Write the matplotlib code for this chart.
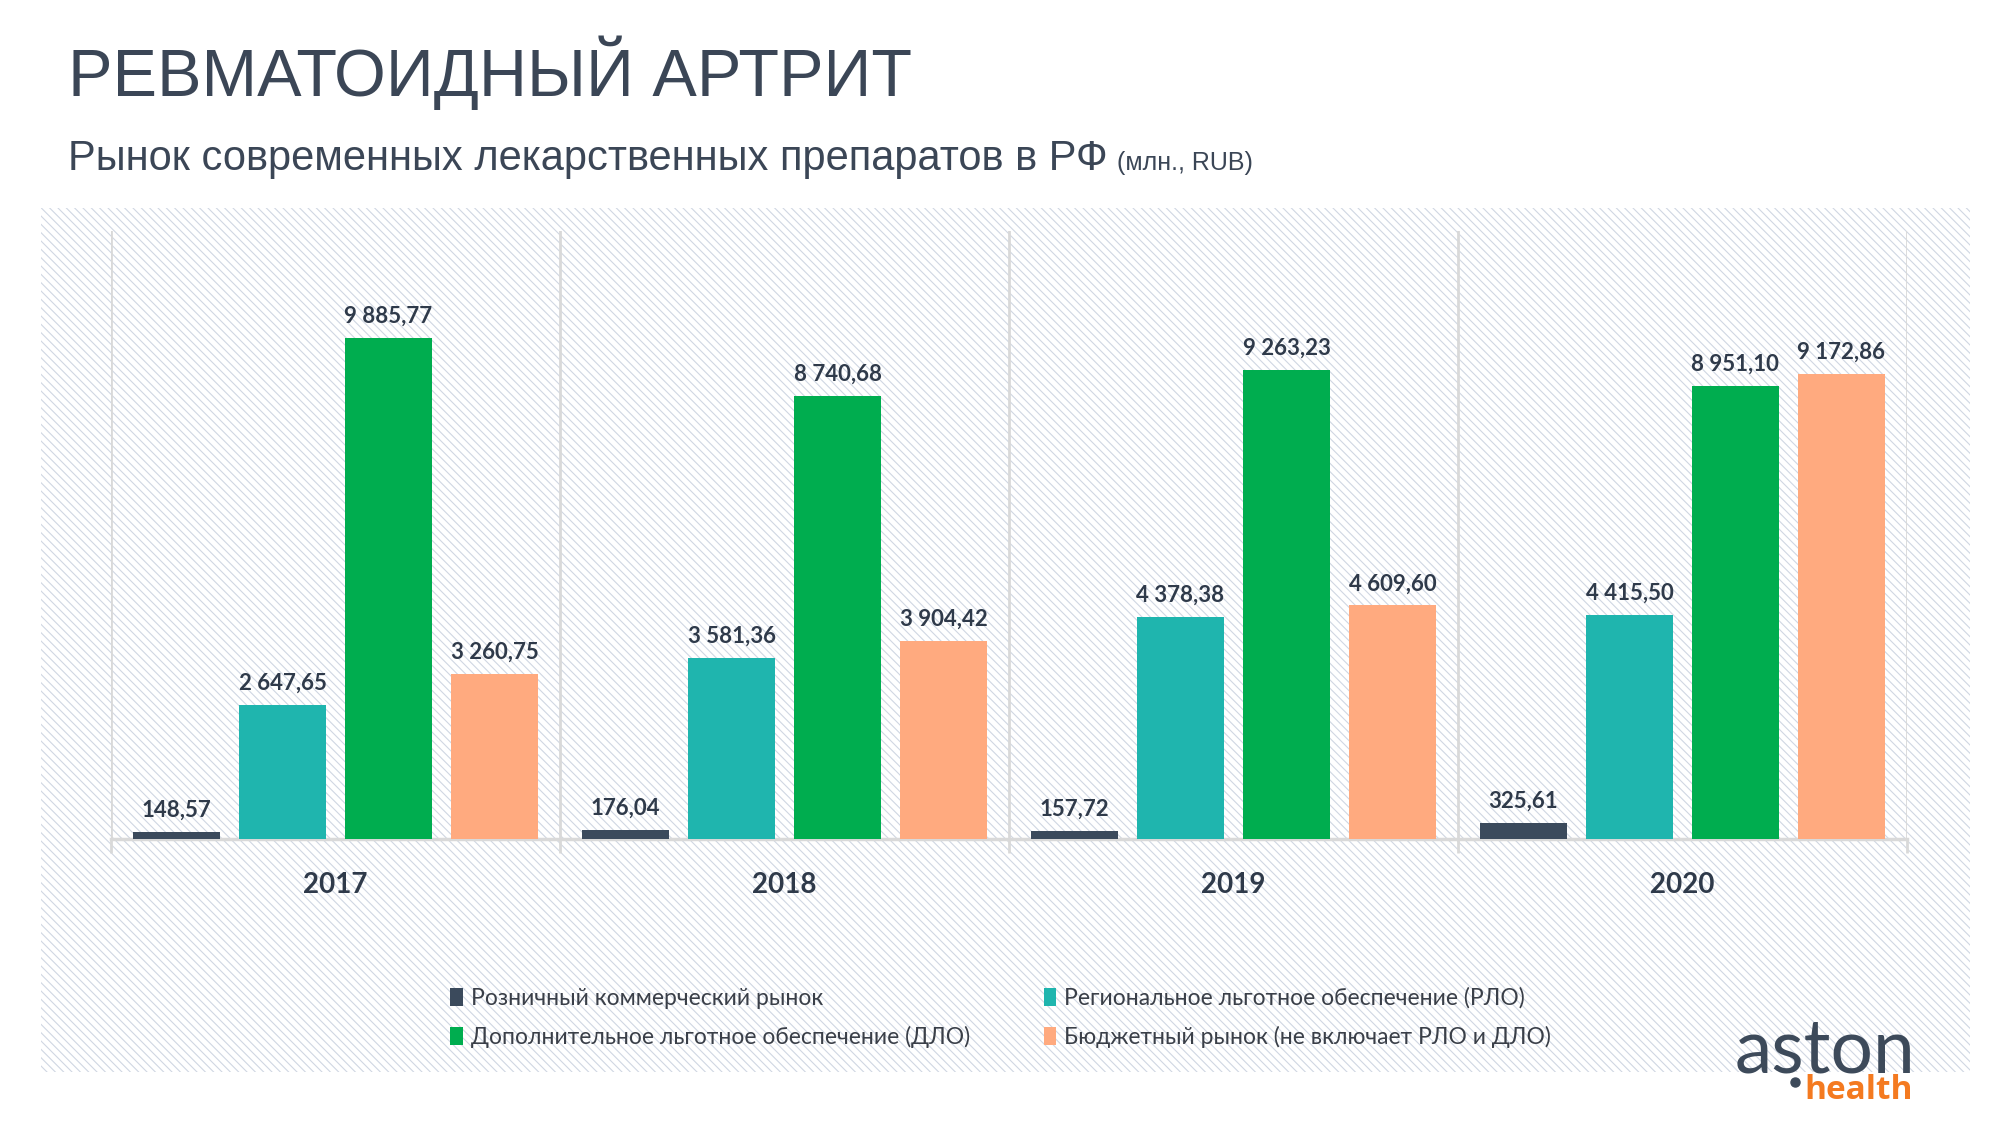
import numpy as np
import matplotlib
matplotlib.use('Agg')
import matplotlib.pyplot as plt
from matplotlib.patches import Rectangle
from matplotlib.lines import Line2D

# data
years = ['2017', '2018', '2019', '2020']
series = ['Розничный коммерческий рынок',
          'Региональное льготное обеспечение (РЛО)',
          'Дополнительное льготное обеспечение (ДЛО)',
          'Бюджетный рынок (не включает РЛО и ДЛО)']
retail = [148.57, 176.04, 157.72, 325.61]
rlo = [2647.65, 3581.36, 4378.38, 4415.50]
dlo = [9885.77, 8740.68, 9263.23, 8951.10]
budget = [3260.75, 3904.42, 4609.60, 9172.86]
colors = ['#3b4a5c', '#1fb5ae', '#00ad4f', '#ffaa7f']

dark = '#2f3a4a'

def fmt(v):
    s = f'{v:,.2f}'
    return s.replace(',', ' ').replace('.', ',')

plt.rcParams['hatch.linewidth'] = 0.8
fig = plt.figure(figsize=(20.02, 11.27), dpi=100)

# hatched background panel
bg = Rectangle((0.0205, 0.0488), 0.9635, 0.7667, transform=fig.transFigure,
               facecolor='white', edgecolor='#d0d7e2', linewidth=0,
               hatch='\\\\\\\\', zorder=-1)
fig.patches.append(bg)

ax = fig.add_axes([0.0555, 0.2555, 0.897, 0.5395])
ax.patch.set_alpha(0)

x = np.arange(len(years))
w = 0.193
step = 0.236
offs = [-1.5 * step, -0.5 * step, 0.5 * step, 1.5 * step]
handles = []
for vals, c, o, name in zip([retail, rlo, dlo, budget], colors, offs, series):
    b = ax.bar(x + o, vals, width=w, color=c, label=name, zorder=3)
    handles.append(b)
    for xi, v in zip(x + o, vals):
        ax.annotate(fmt(v), (xi, v), xytext=(0, 11), textcoords='offset points',
                    ha='center', va='baseline', fontsize=16, fontweight='bold',
                    color=dark, family='Lato')

ax.set_xlim(-0.5, 3.5)
ax.set_ylim(0, 12000)
ax.set_yticks([])
ax.set_xticks(x)
ax.set_xticklabels(years, fontsize=20, fontweight='bold', color=dark, family='Lato')
ax.set_xticks(np.arange(-0.5, 4, 1), minor=True)
ax.tick_params(axis='x', which='major', length=0, pad=24)
ax.tick_params(axis='x', which='minor', length=10, width=2, color='#d9d9d9', direction='out')
ax.grid(which='minor', axis='x', color='#d9d9d9', linewidth=2, zorder=1)
for s in ['top', 'left', 'right']:
    ax.spines[s].set_visible(False)
ax.spines['bottom'].set_color('#d9d9d9')
ax.spines['bottom'].set_linewidth(2.5)

# legend
order = [0, 2, 1, 3]
leg = fig.legend([handles[i] for i in order], [series[i] for i in order], ncol=2,
                 loc='upper left', bbox_to_anchor=(0.225, 0.124), frameon=False,
                 prop={'family': 'Lato', 'size': 16.5}, labelcolor='#3a3f48',
                 handlelength=0.55, handleheight=0.8, handletextpad=0.35,
                 columnspacing=3.2, labelspacing=0.75, borderpad=0, borderaxespad=0)

# titles
fig.text(0.034, 0.915, 'РЕВМАТОИДНЫЙ АРТРИТ', fontsize=48, color='#3b4656',
         family='Liberation Sans', va='baseline')
sub = fig.text(0.034, 0.849, 'Рынок современных лекарственных препаратов в РФ',
               fontsize=30, color='#3b4656', family='Liberation Sans', va='baseline')
fig.canvas.draw()
bb = sub.get_window_extent(fig.canvas.get_renderer())
fig.text(bb.x1 / fig.bbox.width + 0.0045, 0.849, '(млн., RUB)', fontsize=18,
         color='#3b4656', family='Liberation Sans', va='baseline')

# logo
fig.text(0.9565, 0.0488, 'aston', fontsize=54, color='#3d4a5a', family='Lato',
         ha='right', va='baseline')
fig.text(0.9555, 0.0248, 'health', fontsize=24, color='#f47a20', family='Open Sans',
         fontweight='bold', ha='right', va='baseline')
fig.add_artist(Line2D([0.8966], [0.0399], marker='o', markersize=6.5,
                      color='#3d4a5a', linestyle='none', transform=fig.transFigure))

fig.savefig('out.png', dpi=100)
